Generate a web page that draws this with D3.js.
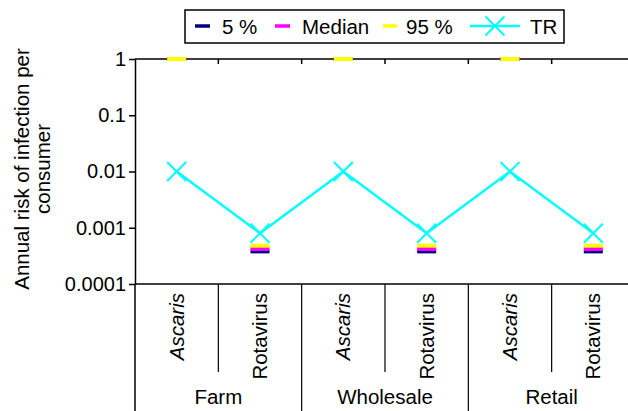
<!DOCTYPE html>
<html><head><meta charset="utf-8">
<script src="https://cdn.jsdelivr.net/npm/d3@7"></script>
<style>
body{margin:0;background:#fff;}
text{font-family:"Liberation Sans",Arial,Helvetica,sans-serif;}
</style></head>
<body><svg id="c" width="628" height="411"></svg>
<script>
const groups = ["Farm","Wholesale","Retail"];
const pathogens = ["Ascaris","Rotavirus"];
const categories = ["Farm|Ascaris","Farm|Rotavirus","Wholesale|Ascaris","Wholesale|Rotavirus","Retail|Ascaris","Retail|Rotavirus"];
const p5     = [1, 0.00038, 1, 0.00038, 1, 0.00038];
const median = [1, 0.00042, 1, 0.00042, 1, 0.00042];
const p95    = [1, 0.00048, 1, 0.00048, 1, 0.00048];
const tr     = [0.01, 0.0008, 0.01, 0.0008, 0.01, 0.0008];
const yTicks = [0.0001, 0.001, 0.01, 0.1, 1];
const yTickLabels = ["0.0001","0.001","0.01","0.1","1"];
const seriesNames = ["5 %","Median","95 %","TR"];
const seriesColors = ["#000080","#ff00ff","#ffff00","#00ffff"];

const svg = d3.select("#c");
const L=135, T=59, B=284, catW=83.33;
const x = d3.scaleBand().domain(categories).range([L, L+catW*categories.length]).padding(0);
const y = d3.scaleLog().domain([1e-4,1]).range([B,T]);
const FS = "20.5px";

// Y axis
const yAxis = d3.axisLeft(y).tickValues(yTicks).tickSizeInner(6).tickSizeOuter(0).tickPadding(3)
  .tickFormat((d,i)=>yTickLabels[i]);
const ga = svg.append("g").attr("transform",`translate(${L},0)`).call(yAxis);
ga.select(".domain").attr("stroke","#000").attr("stroke-width",1.5);
ga.selectAll(".tick line").attr("stroke","#000").attr("stroke-width",1.5);
ga.selectAll(".tick text").attr("font-size","20px").attr("fill","#000").attr("font-family","Liberation Sans, Arial, sans-serif");
svg.append("line").attr("x1",L).attr("x2",L).attr("y1",B).attr("y2",411).attr("stroke","#000").attr("stroke-width",1.5);

// top line with ticks at category boundaries
svg.append("line").attr("x1",L).attr("x2",628).attr("y1",y(1)).attr("y2",y(1)).attr("stroke","#000").attr("stroke-width",1.5);
categories.forEach((c,i)=>{ if(i>0){
  svg.append("line").attr("x1",x(c)).attr("x2",x(c)).attr("y1",y(1)).attr("y2",y(1)+5).attr("stroke","#000").attr("stroke-width",1.5);
}});

// bottom category axis
svg.append("line").attr("x1",L).attr("x2",628).attr("y1",B).attr("y2",B).attr("stroke","#000").attr("stroke-width",1.5);
categories.forEach((c,i)=>{
  if(i===0) return;
  const isGroup = i%2===0;
  svg.append("line").attr("x1",x(c)).attr("x2",x(c)).attr("y1",B).attr("y2",isGroup?411:372)
    .attr("stroke","#000").attr("stroke-width",1.2);
});
categories.forEach((c,i)=>{
  const p = c.split("|")[1];
  const cx = x(c)+x.bandwidth()/2;
  svg.append("text").attr("transform",`translate(${cx+7},293) rotate(-90)`)
    .attr("text-anchor","end").attr("font-size",FS)
    .attr("font-style", p==="Ascaris"?"italic":"normal").text(p);
});
groups.forEach((g,gi)=>{
  const c0 = categories[gi*2];
  const cx = x(c0)+x.bandwidth();
  svg.append("text").attr("x",cx).attr("y",404).attr("text-anchor","middle").attr("font-size",FS).text(g);
});

// Y axis title
const ty = 169;
svg.append("text").attr("transform",`translate(29,${ty}) rotate(-90)`).attr("text-anchor","middle").attr("font-size",FS).text("Annual risk of infection per");
svg.append("text").attr("transform",`translate(50,${ty}) rotate(-90)`).attr("text-anchor","middle").attr("font-size",FS).text("consumer");

// dash markers
const dashW=19, dashH=4;
[p5,median,p95].forEach((arr,si)=>{
  svg.append("g").selectAll("rect").data(arr).join("rect")
    .attr("x",(d,i)=>x(categories[i])+x.bandwidth()/2-dashW/2)
    .attr("y",d=>y(d)-dashH/2).attr("width",dashW).attr("height",dashH)
    .attr("fill",seriesColors[si]);
});

// TR line
const line = d3.line().x((d,i)=>x(categories[i])+x.bandwidth()/2).y(d=>y(d));
svg.append("path").datum(tr).attr("d",line).attr("fill","none").attr("stroke",seriesColors[3]).attr("stroke-width",2.5);
const m=9.5;
svg.append("g").selectAll("path").data(tr).join("path")
  .attr("d",(d,i)=>{const cx=x(categories[i])+x.bandwidth()/2, cy=y(d);
    return `M${cx-m},${cy-m}L${cx+m},${cy+m}M${cx-m},${cy+m}L${cx+m},${cy-m}`;})
  .attr("stroke",seriesColors[3]).attr("stroke-width",2).attr("fill","none");

// Legend
const lg = svg.append("g");
lg.append("rect").attr("x",185).attr("y",10).attr("width",379).attr("height",33).attr("fill","#fff").attr("stroke","#000").attr("stroke-width",1.5);
const legItems = [
  {x0:195,x1:210,tx:222},
  {x0:275,x1:290,tx:302},
  {x0:383,x1:397,tx:406},
  {x0:470,x1:520,tx:530}
];
legItems.forEach((it,i)=>{
  lg.append("line").attr("x1",it.x0).attr("x2",it.x1).attr("y1",26).attr("y2",26)
    .attr("stroke",seriesColors[i]).attr("stroke-width",i===3?2.5:3.5);
  if(i===3){
    const cx=(it.x0+it.x1)/2, cy=26;
    lg.append("path").attr("d",`M${cx-m},${cy-m}L${cx+m},${cy+m}M${cx-m},${cy+m}L${cx+m},${cy-m}`)
      .attr("stroke",seriesColors[3]).attr("stroke-width",2);
  }
  lg.append("text").attr("x",it.tx).attr("y",34).attr("font-size",FS).text(seriesNames[i]);
});
</script></body></html>
